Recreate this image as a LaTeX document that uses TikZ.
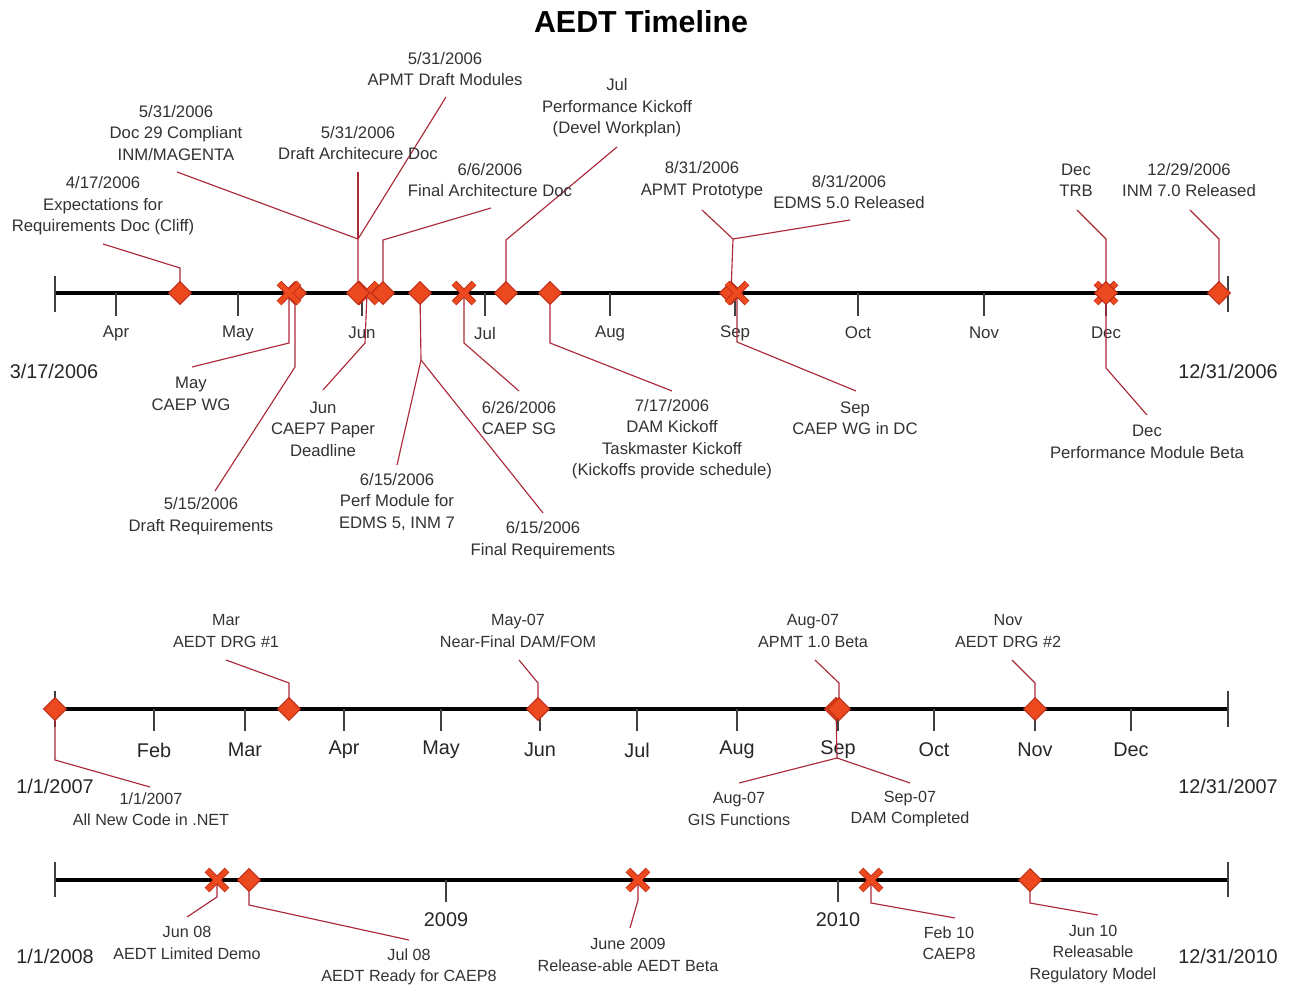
\documentclass[tikz,border=0pt]{standalone}
\usepackage{fontspec}
\setmainfont{Liberation Sans}
\usetikzlibrary{shapes.geometric,shapes.misc}
\definecolor{mkfill}{RGB}{236,74,30}
\definecolor{mkdraw}{RGB}{190,45,25}
\definecolor{connc}{RGB}{170,40,55}
\definecolor{txt}{RGB}{50,50,50}
\pgfdeclarelayer{bg}
\pgfsetlayers{bg,main}
\begin{document}
\begin{tikzpicture}[x=0.02cm,y=-0.02cm,
 diam/.style={diamond,aspect=1,fill=mkfill,draw=mkdraw,line width=0.6pt,inner sep=0pt,minimum size=0.46cm},
 xmk/.style={cross out,draw=mkdraw,double=mkfill,double distance=2.8pt,line width=0.5pt,inner sep=0pt,minimum size=0.38cm},
 conn/.style={draw=connc,line width=0.65pt},
 axisln/.style={line width=2.3pt,black},
 tickln/.style={line width=0.8pt,black!75},
 lbl/.style={align=center,text=txt,font=\fontsize{9.5}{12.2}\selectfont,inner sep=0pt},
 lblb/.style={lbl,font=\fontsize{9.2}{12.2}\selectfont},
 mon/.style={text=txt,font=\fontsize{9.6}{12}\selectfont,inner sep=0pt},
 monb/.style={text=black!85,font=\fontsize{11.3}{13}\selectfont,inner sep=0pt}]
\useasboundingbox (0,0) rectangle (1293,989);
\node[font=\fontsize{17.3}{20}\selectfont\bfseries,inner sep=0pt] (title) at (641,22) {AEDT Timeline};

% ================= 2006 =================
\begin{pgfonlayer}{bg}
\draw[axisln] (55,293) -- (1228,293);
\draw[tickln] (55,276) -- (55,312);
\draw[tickln] (1228,276) -- (1228,312);
\foreach \x/\m in {116/Apr,238/May,362/Jun,485/Jul,610/Aug,735/Sep,858/Oct,984/Nov,1106/Dec}{
  \draw[tickln] (\x,293) -- (\x,316);
  \node[mon] (mo\m) at (\x,333) {\m};
}
\end{pgfonlayer}
\node[monb] (s06) at (54,371) {3/17/2006};
\node[monb] (e06) at (1228,371) {12/31/2006};

% markers
\node[diam] (m1) at (180,293) {};
\node[diam] (m2d) at (295,293) {};
\node[xmk] (m2x) at (289,293) {};
\node[xmk] (m4) at (367,293) {};
\node[diam] (m3) at (358,293) {};
\node[diam] (m5) at (383,293) {};
\node[diam] (m6) at (420,293) {};
\node[xmk] (m7) at (464,293) {};
\node[diam] (m8) at (506,293) {};
\node[diam] (m9) at (550,293) {};
\node[diam] (m10d) at (731,293) {};
\node[xmk] (m10x) at (737,293) {};
\node[xmk] (m11x) at (1106,293) {};
\node[diam] (m11d) at (1106,293) {};
\node[diam] (m12) at (1219,293) {};

% labels
\node[lbl] (l1) at (103,206) {4/17/2006\\Expectations for\\Requirements Doc (Cliff)};
\node[lbl] (l2) at (176,133) {5/31/2006\\Doc 29 Compliant\\INM/MAGENTA};
\node[lbl] (l3) at (358,143) {5/31/2006\\Draft Architecure Doc};
\node[lbl] (l4) at (445,69) {5/31/2006\\APMT Draft Modules};
\node[lbl] (l5) at (490,180) {6/6/2006\\Final Architecture Doc};
\node[lbl] (l6) at (617,108) {Jul\\Performance Kickoff\\(Devel Workplan)};
\node[lbl] (l7) at (702,180) {8/31/2006\\APMT Prototype};
\node[lbl] (l8) at (849,192) {8/31/2006\\EDMS 5.0 Released};
\node[lbl] (l9) at (1076,180) {Dec\\TRB};
\node[lbl] (l10) at (1189,180) {12/29/2006\\INM 7.0 Released};
\node[lbl] (l11) at (191,394) {May\\CAEP WG};
\node[lbl] (l12) at (201,516) {5/15/2006\\Draft Requirements};
\node[lbl] (l13) at (323,429) {Jun\\CAEP7 Paper\\Deadline};
\node[lbl] (l14) at (397,502) {6/15/2006\\Perf Module for\\EDMS 5, INM 7};
\node[lbl] (l15) at (543,540) {6/15/2006\\Final Requirements};
\node[lbl] (l16) at (519,418) {6/26/2006\\CAEP SG};
\node[lbl] (l17) at (672,439) {7/17/2006\\DAM Kickoff\\Taskmaster Kickoff\\(Kickoffs provide schedule)};
\node[lbl] (l18) at (855,418) {Sep\\CAEP WG in DC};
\node[lbl] (l19) at (1147,442) {Dec\\Performance Module Beta};

% connector points
\coordinate (j1) at (180,268); \coordinate (e1) at (103,244);
\coordinate (j2a) at (289,343); \coordinate (e2a) at (192,367);
\coordinate (j2b) at (295,367); \coordinate (e2b) at (215,491);
\coordinate (j3) at (358,239); \coordinate (e3a) at (177,172);
\coordinate (e3b) at (358,172); \coordinate (e3c) at (446,97);
\coordinate (j4) at (365,343); \coordinate (e4) at (323,390);
\coordinate (j5) at (383,240); \coordinate (e5) at (491,208);
\coordinate (j6) at (421,360); \coordinate (e6a) at (397,465); \coordinate (e6b) at (543,513);
\coordinate (j7) at (464,343); \coordinate (e7) at (519,391);
\coordinate (j8) at (506,240); \coordinate (e8) at (617,147);
\coordinate (j9) at (550,343); \coordinate (e9) at (672,391);
\coordinate (j10a) at (733,239); \coordinate (e10a) at (702,210); \coordinate (e10b) at (850,220);
\coordinate (j10b) at (737,342); \coordinate (e10c) at (856,391);
\coordinate (j11a) at (1106,239); \coordinate (e11a) at (1077,210);
\coordinate (j11b) at (1106,368); \coordinate (e11b) at (1147,415);
\coordinate (j12) at (1219,239); \coordinate (e12) at (1190,210);

\begin{pgfonlayer}{bg}
\draw[conn] (m1.center) -- (j1) -- (e1);
\draw[conn] (m2x.center) -- (j2a) -- (e2a);
\draw[conn] (m2d.center) -- (j2b) -- (e2b);
\draw[conn] (m3.center) -- (j3) -- (e3a);
\draw[conn] (j3) -- (e3b);
\draw[conn] (j3) -- (e3c);
\draw[conn] (m4.center) -- (j4) -- (e4);
\draw[conn] (m5.center) -- (j5) -- (e5);
\draw[conn] (m6.center) -- (j6) -- (e6a);
\draw[conn] (j6) -- (e6b);
\draw[conn] (m7.center) -- (j7) -- (e7);
\draw[conn] (m8.center) -- (j8) -- (e8);
\draw[conn] (m9.center) -- (j9) -- (e9);
\draw[conn] (m10d.center) -- (j10a) -- (e10a);
\draw[conn] (j10a) -- (e10b);
\draw[conn] (m10x.center) -- (j10b) -- (e10c);
\draw[conn] (m11d.center) -- (j11a) -- (e11a);
\draw[conn] (m11d.center) -- (j11b) -- (e11b);
\draw[conn] (m12.center) -- (j12) -- (e12);
\end{pgfonlayer}

% ================= 2007 =================
\begin{pgfonlayer}{bg}
\draw[axisln] (55,709) -- (1228,709);
\draw[tickln] (55,691) -- (55,727);
\draw[tickln] (1228,691) -- (1228,727);
\foreach \x/\m in {154/Feb,245/Mar,344/Apr,441/May,540/Jun,637/Jul,737/Aug,838/Sep,934/Oct,1035/Nov,1131/Dec}{
  \draw[tickln] (\x,709) -- (\x,731);
  \node[monb] (mt\m) at (\x,750) {\m};
}
\end{pgfonlayer}
\node[monb] (s07) at (55,786) {1/1/2007};
\node[monb] (e07) at (1228,786) {12/31/2007};

\node[diam] (n1) at (55,709) {};
\node[diam] (n2) at (289,709) {};
\node[diam] (n3) at (538,709) {};
\node[diam] (n4a) at (836,709) {};
\node[diam] (n4b) at (839,709) {};
\node[diam] (n5) at (1035,709) {};

\node[lblb] (k1) at (226,631) {Mar\\AEDT DRG \#1};
\node[lblb] (k2) at (518,631) {May-07\\Near-Final DAM/FOM};
\node[lblb] (k3) at (813,631) {Aug-07\\APMT 1.0 Beta};
\node[lblb] (k4) at (1008,631) {Nov\\AEDT DRG \#2};
\node[lblb] (k5) at (151,809) {1/1/2007\\All New Code in .NET};
\node[lblb] (k6) at (739,809) {Aug-07\\GIS Functions};
\node[lblb] (k7) at (910,809) {Sep-07\\DAM Completed};

\coordinate (i1) at (55,760); \coordinate (f1) at (150,787);
\coordinate (i2) at (289,683); \coordinate (f2) at (226,660);
\coordinate (i3) at (538,683); \coordinate (f3) at (519,660);
\coordinate (i4a) at (839,683); \coordinate (f4a) at (815,660);
\coordinate (i4b) at (837,758); \coordinate (f4b) at (739,783); \coordinate (f4c) at (910,783);
\coordinate (i5) at (1035,683); \coordinate (f5) at (1012,660);

\begin{pgfonlayer}{bg}
\draw[conn] (n1.center) -- (i1) -- (f1);
\draw[conn] (n2.center) -- (i2) -- (f2);
\draw[conn] (n3.center) -- (i3) -- (f3);
\draw[conn] (n4b.center) -- (i4a) -- (f4a);
\draw[conn] (n4a.center) -- (i4b) -- (f4b);
\draw[conn] (i4b) -- (f4c);
\draw[conn] (n5.center) -- (i5) -- (f5);
\end{pgfonlayer}

% ================= 2008-2010 =================
\begin{pgfonlayer}{bg}
\draw[axisln] (55,880) -- (1228,880);
\draw[tickln] (55,862) -- (55,897);
\draw[tickln] (1228,862) -- (1228,897);
\draw[tickln] (446,880) -- (446,902);
\draw[tickln] (838,880) -- (838,902);
\end{pgfonlayer}
\node[monb] (y09) at (446,920) {2009};
\node[monb] (y10) at (838,920) {2010};
\node[monb] (s08) at (55,956) {1/1/2008};
\node[monb] (e10) at (1228,956) {12/31/2010};

\node[xmk] (p1) at (217,880) {};
\node[diam] (p2) at (249,880) {};
\node[xmk] (p3) at (638,880) {};
\node[xmk] (p4) at (871,880) {};
\node[diam] (p5) at (1030,880) {};

\node[lblb] (q1) at (187,943) {Jun 08\\AEDT Limited Demo};
\node[lblb] (q2) at (409,967) {Jul 08\\AEDT Ready for CAEP8};
\node[lblb] (q3) at (628,955) {June 2009\\Release-able AEDT Beta};
\node[lblb] (q4) at (949,943) {Feb 10\\CAEP8};
\node[lblb] (q5) at (1093,954) {Jun 10\\Releasable\\Regulatory Model};

\coordinate (h1) at (217,897); \coordinate (g1) at (187,917);
\coordinate (h2) at (249,905); \coordinate (g2) at (409,940);
\coordinate (h3) at (638,900); \coordinate (g3) at (630,928);
\coordinate (h4) at (871,903); \coordinate (g4) at (955,918);
\coordinate (h5) at (1030,903); \coordinate (g5) at (1098,915);

\begin{pgfonlayer}{bg}
\draw[conn] (p1.center) -- (h1) -- (g1);
\draw[conn] (p2.center) -- (h2) -- (g2);
\draw[conn] (p3.center) -- (h3) -- (g3);
\draw[conn] (p4.center) -- (h4) -- (g4);
\draw[conn] (p5.center) -- (h5) -- (g5);
\end{pgfonlayer}
\end{tikzpicture}
\end{document}
